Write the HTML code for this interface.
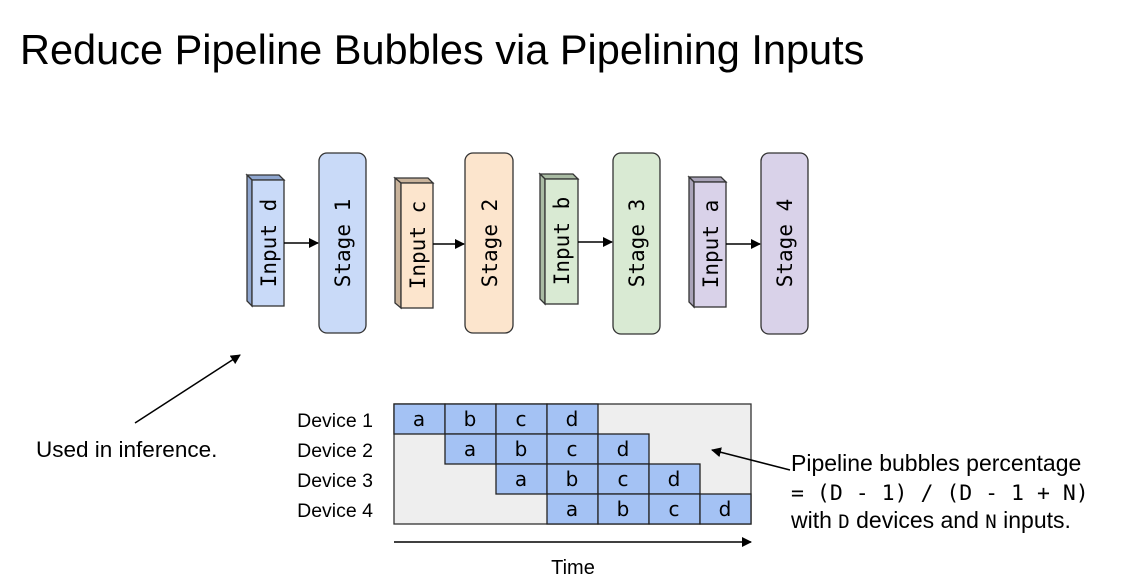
<!DOCTYPE html>
<html><head><meta charset="utf-8"><style>
html,body{margin:0;padding:0;background:#fff;}
svg{display:block;}
</style></head><body>
<svg width="1130" height="584" viewBox="0 0 1130 584" xmlns="http://www.w3.org/2000/svg">
<defs>
<marker id="ah" markerWidth="10" markerHeight="10" refX="9" refY="5" orient="auto" markerUnits="userSpaceOnUse"><path d="M0,0 L10,5 L0,10 z" fill="#000"/></marker>
</defs>
<text x="20" y="64" font-family="Liberation Sans, sans-serif" font-size="41.5" fill="#000">Reduce Pipeline Bubbles via Pipelining Inputs</text>

<g stroke="#333" stroke-width="1.3">
<polygon points="247,175 279,175 284,180 252,180" fill="#8fa6cf"/>
<polygon points="247,175 252,180 252,306 247,301" fill="#8fa6cf"/>
<rect x="252" y="180" width="32" height="126" fill="#c9daf8"/>
<polygon points="395,178 428,178 433,183 401,183" fill="#c9b39b"/>
<polygon points="395,178 401,183 401,308 395,303" fill="#c9b39b"/>
<rect x="401" y="183" width="32" height="125" fill="#fce5cd"/>
<polygon points="540,174 573,174 578,179 545,179" fill="#a9bba3"/>
<polygon points="540,174 545,179 545,304 540,299" fill="#a9bba3"/>
<rect x="545" y="179" width="33" height="125" fill="#d9ead3"/>
<polygon points="689,177 721,177 726,182 694,182" fill="#a9a3b8"/>
<polygon points="689,177 694,182 694,307 689,302" fill="#a9a3b8"/>
<rect x="694" y="182" width="32" height="125" fill="#d9d2e9"/>
<rect x="319" y="153" width="47" height="180" rx="8" fill="#c9daf8"/>
<rect x="465" y="153" width="48" height="180" rx="8" fill="#fce5cd"/>
<rect x="613" y="153" width="47" height="181" rx="8" fill="#d9ead3"/>
<rect x="761" y="153" width="47" height="181" rx="8" fill="#d9d2e9"/>
</g>
<g font-family="DejaVu Sans Mono, monospace" font-size="21" fill="#000" text-anchor="middle">
<text transform="translate(276,243) rotate(-90)">Input d</text>
<text transform="translate(350,243) rotate(-90)">Stage 1</text>
<text transform="translate(425,245) rotate(-90)">Input c</text>
<text transform="translate(497,243) rotate(-90)">Stage 2</text>
<text transform="translate(569,241) rotate(-90)">Input b</text>
<text transform="translate(644,243) rotate(-90)">Stage 3</text>
<text transform="translate(718,244) rotate(-90)">Input a</text>
<text transform="translate(792,243) rotate(-90)">Stage 4</text>
</g>

<text x="36" y="457" font-family="Liberation Sans, sans-serif" font-size="22.5">Used in inference.</text>

<rect x="394" y="404" width="357" height="120" fill="#eeeeee" stroke="#333" stroke-width="1.3"/>
<g fill="#a4c2f4" stroke="#222" stroke-width="1.3">
<rect x="394" y="404" width="51" height="30"/><rect x="445" y="404" width="51" height="30"/><rect x="496" y="404" width="51" height="30"/><rect x="547" y="404" width="51" height="30"/>
<rect x="445" y="434" width="51" height="30"/><rect x="496" y="434" width="51" height="30"/><rect x="547" y="434" width="51" height="30"/><rect x="598" y="434" width="51" height="30"/>
<rect x="496" y="464" width="51" height="30"/><rect x="547" y="464" width="51" height="30"/><rect x="598" y="464" width="51" height="30"/><rect x="649" y="464" width="51" height="30"/>
<rect x="547" y="494" width="51" height="30"/><rect x="598" y="494" width="51" height="30"/><rect x="649" y="494" width="51" height="30"/><rect x="700" y="494" width="51" height="30"/>
</g>
<g font-family="DejaVu Sans, sans-serif" font-size="20" text-anchor="middle" fill="#000">
<text x="419" y="426">a</text><text x="470" y="426">b</text><text x="521" y="426">c</text><text x="572" y="426">d</text>
<text x="470" y="456">a</text><text x="521" y="456">b</text><text x="572" y="456">c</text><text x="623" y="456">d</text>
<text x="521" y="486">a</text><text x="572" y="486">b</text><text x="623" y="486">c</text><text x="674" y="486">d</text>
<text x="572" y="516">a</text><text x="623" y="516">b</text><text x="674" y="516">c</text><text x="725" y="516">d</text>
</g>
<g font-family="Liberation Sans, sans-serif" font-size="19.5" text-anchor="end">
<text x="373" y="427">Device 1</text>
<text x="373" y="457">Device 2</text>
<text x="373" y="487">Device 3</text>
<text x="373" y="517">Device 4</text>
</g>
<text x="573" y="574" font-family="Liberation Sans, sans-serif" font-size="20" text-anchor="middle">Time</text>

<g stroke="#000" stroke-width="1.5" marker-end="url(#ah)">
<line x1="284" y1="243" x2="318" y2="243"/>
<line x1="433" y1="244" x2="464" y2="244"/>
<line x1="578" y1="242" x2="612" y2="242"/>
<line x1="726" y1="244" x2="760" y2="244"/>
<line x1="135" y1="423" x2="240" y2="355"/>
<line x1="790" y1="470" x2="712" y2="450"/>
<line x1="394" y1="542" x2="751" y2="542"/>
</g>

<g font-family="Liberation Sans, sans-serif" font-size="23">
<text x="791" y="471">Pipeline bubbles percentage</text>
<text x="791" y="500" font-family="DejaVu Sans Mono, monospace" font-size="21.5">= (D - 1) / (D - 1 + N)</text>
<text x="791" y="528">with <tspan font-family="DejaVu Sans Mono, monospace" font-size="19">D</tspan> devices and <tspan font-family="DejaVu Sans Mono, monospace" font-size="19">N</tspan> inputs.</text>
</g>
</svg>
</body></html>
